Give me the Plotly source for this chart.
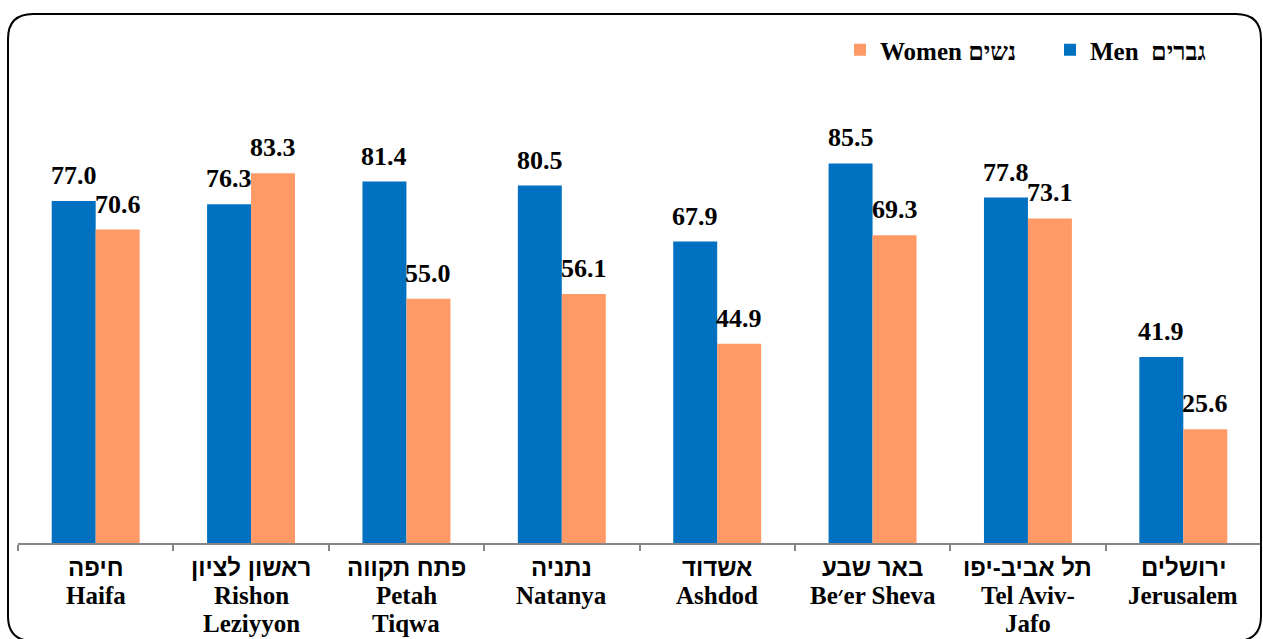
import plotly.graph_objects as go

# ---- data ----
cities_he = ["חיפה", "ראשון לציון", "פתח תקווה", "נתניה", "אשדוד", "באר שבע", "תל אביב-יפו", "ירושלים"]
cities_en1 = ["Haifa", "Rishon", "Petah", "Natanya", "Ashdod", "Be׳er Sheva", "Tel Aviv-", "Jerusalem"]
cities_en2 = ["", "Leziyyon", "Tiqwa", "", "", "", "Jafo", ""]
men = [77.0, 76.3, 81.4, 80.5, 67.9, 85.5, 77.8, 41.9]
women = [70.6, 83.3, 55.0, 56.1, 44.9, 69.3, 73.1, 25.6]
men_name = "Men  גברים"
women_name = "Women נשים"

BLUE = "#0070C0"
ORANGE = "#FF9966"
SERIF = "Liberation Serif, Times New Roman, serif"
HEB = "Liberation Sans, Arial, sans-serif"

cats = cities_en1[:]

W, H = 1263, 639
L, R, T, B = 18, 2, 99, 96
pw = W - L - R
ph = H - T - B

fig = go.Figure()
fig.add_trace(go.Bar(x=cats, y=men, name=men_name, marker_color=BLUE, marker_line_width=0))
fig.add_trace(go.Bar(x=cats, y=women, name=women_name, marker_color=ORANGE, marker_line_width=0))

annotations = []
# value labels
for c, m, w in zip(cats, men, women):
    annotations.append(dict(x=c, y=m, xref="x", yref="y", text=f"{m:.1f}", showarrow=False,
                            xshift=-22, yshift=9, yanchor="bottom",
                            font=dict(family=SERIF, size=26, color="black", weight="bold")))
    annotations.append(dict(x=c, y=w, xref="x", yref="y", text=f"{w:.1f}", showarrow=False,
                            xshift=22, yshift=9, yanchor="bottom",
                            font=dict(family=SERIF, size=26, color="black", weight="bold")))
# category labels (three tight lines)
for c, he, e1, e2 in zip(cats, cities_he, cities_en1, cities_en2):
    annotations.append(dict(x=c, y=0, xref="x", yref="paper", text=he, showarrow=False,
                            yanchor="middle", yshift=-24,
                            font=dict(family=HEB, size=24, color="black", weight="bold")))
    annotations.append(dict(x=c, y=0, xref="x", yref="paper", text=e1, showarrow=False,
                            yanchor="middle", yshift=-52,
                            font=dict(family=SERIF, size=25, color="black", weight="bold")))
    if e2:
        annotations.append(dict(x=c, y=0, xref="x", yref="paper", text=e2, showarrow=False,
                                yanchor="middle", yshift=-80,
                                font=dict(family=SERIF, size=25, color="black", weight="bold")))

# rounded border (pixel -> paper)
def px(xp):
    return (xp - L) / pw
def py(yp):
    return (H - B - yp) / ph
x0, x1, y0, y1, r = 8, 1261, 14, 641, 25
path = (f"M {px(x0+r)},{py(y0)} L {px(x1-r)},{py(y0)} Q {px(x1)},{py(y0)} {px(x1)},{py(y0+r)} "
        f"L {px(x1)},{py(y1-r)} Q {px(x1)},{py(y1)} {px(x1-r)},{py(y1)} "
        f"L {px(x0+r)},{py(y1)} Q {px(x0)},{py(y1)} {px(x0)},{py(y1-r)} "
        f"L {px(x0)},{py(y0+r)} Q {px(x0)},{py(y0)} {px(x0+r)},{py(y0)} Z")

fig.update_layout(
    width=W, height=H,
    margin=dict(l=L, r=R, t=T, b=B),
    paper_bgcolor="white", plot_bgcolor="white",
    barmode="group", bargap=0.434, bargroupgap=0,
    showlegend=True,
    legend=dict(orientation="h", traceorder="reversed", x=px(840), xanchor="left",
                y=py(50), yanchor="middle", entrywidth=165, entrywidthmode="pixels",
                font=dict(family=SERIF, size=25, color="black", weight="bold"),
                bgcolor="rgba(0,0,0,0)"),
    xaxis=dict(type="category", showticklabels=False, tickson="boundaries", ticks="outside",
               ticklen=6, tickcolor="#868686", tickwidth=2, showline=True, linecolor="#868686",
               linewidth=2, showgrid=False, zeroline=False),
    yaxis=dict(range=[0, 100], visible=False, showgrid=False, zeroline=False),
    annotations=annotations,
    shapes=[dict(type="path", path=path, xref="paper", yref="paper",
                 line=dict(color="black", width=2), fillcolor="rgba(0,0,0,0)", layer="above")],
)

fig.write_html("out.html", config={"displayModeBar": False},
               post_script="document.body.style.margin='0';document.body.style.overflow='hidden';")
